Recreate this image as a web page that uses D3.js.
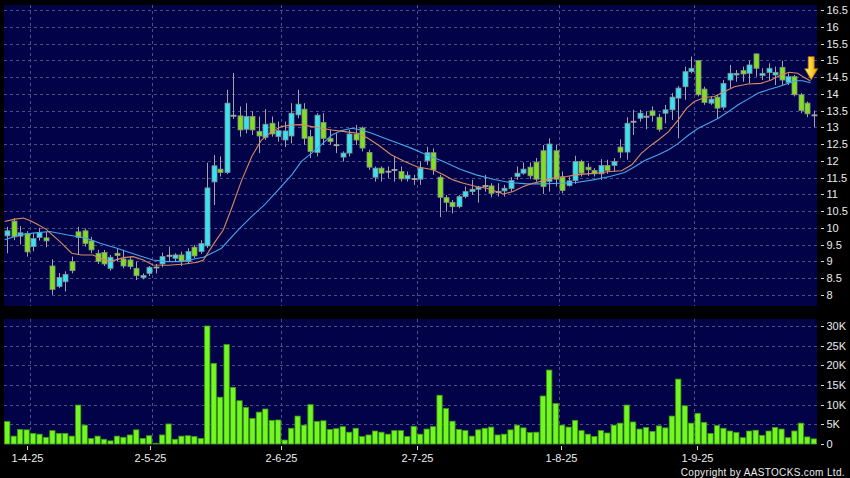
<!DOCTYPE html>
<html><head><meta charset="utf-8">
<script src="https://cdn.jsdelivr.net/npm/d3@7/dist/d3.min.js"></script>
<style>html,body{margin:0;padding:0;background:#000;}svg{display:block;}</style>
</head><body>
<svg id="c" width="850" height="478"></svg>
<script>
// ---- data ----
const opens  = [9.76,10.2,9.75,9.83,9.44,9.71,9.7,8.86,8.25,8.39,8.99,9.88,9.91,9.61,9.24,9.26,8.79,9.24,9.07,9.04,8.79,8.51,8.64,8.82,8.92,9.17,9.09,9.19,8.99,9.42,9.29,9.46,11.37,11.75,11.65,13.36,13.34,12.94,13.32,12.88,12.7,13.12,12.72,12.62,12.74,13.37,13.54,12.72,12.25,13.14,12.67,12.48,12.11,12.23,12.8,12.98,12.25,11.51,11.78,11.69,11.74,11.68,11.46,11.47,11.45,12.0,12.24,11.51,10.9,10.76,10.63,10.93,11.08,11.15,11.25,11.25,11.08,11.1,11.17,11.53,11.63,11.81,11.96,12.3,11.38,12.3,11.51,11.26,11.41,11.98,11.81,11.71,11.61,11.86,11.86,12.41,12.26,13.17,13.27,13.33,13.49,13.3,13.42,13.52,13.87,14.21,14.66,14.99,14.14,13.72,13.9,13.6,14.41,14.56,14.69,14.61,15.19,14.54,14.63,14.56,14.79,14.34,14.51,13.97,13.72,13.37];
const highs  = [10.03,10.28,10.05,9.9,9.85,10.0,9.88,9.06,8.65,8.7,9.14,10.03,9.98,9.73,9.34,9.34,9.19,9.39,9.34,9.14,8.99,8.64,8.86,8.92,9.26,9.44,9.24,9.29,9.39,9.49,9.63,11.94,12.17,12.13,14.12,14.62,13.62,13.72,13.48,13.32,13.54,13.32,13.17,13.17,13.72,14.12,13.72,12.92,13.42,13.42,12.92,12.82,12.28,12.92,13.07,13.02,12.33,11.83,11.83,11.83,12.13,11.83,11.68,11.58,11.98,12.42,12.37,11.58,10.98,10.83,10.98,11.23,11.43,11.25,11.58,11.33,11.33,11.28,11.51,11.83,11.95,11.95,12.08,12.47,12.67,12.47,11.68,11.53,12.15,12.03,11.93,11.78,12.05,12.03,12.08,12.64,13.3,13.52,13.52,13.47,13.62,13.4,13.67,14.02,14.23,14.81,15.11,15.01,14.21,13.92,13.97,14.41,14.86,14.71,14.81,14.99,15.2,14.76,14.91,14.81,14.99,14.61,14.56,14.02,13.77,13.5];
const lows   = [9.24,9.63,9.5,9.14,9.3,9.62,9.42,8.0,8.2,8.1,8.64,9.19,9.44,9.24,8.92,8.86,8.72,8.99,8.79,8.76,8.44,8.46,8.56,8.64,8.82,8.99,8.99,8.86,8.94,9.09,9.22,9.4,10.68,11.53,11.6,13.25,12.72,12.82,12.77,12.23,12.62,12.72,12.57,12.41,12.52,13.27,12.47,12.08,12.13,12.47,12.47,12.23,11.98,12.13,12.47,12.28,11.73,11.38,11.38,11.48,11.38,11.38,11.38,11.28,11.28,11.88,11.58,10.32,10.48,10.43,10.58,10.88,10.98,10.75,11.08,10.91,10.93,10.93,11.08,11.43,11.58,11.45,11.38,11.01,11.08,11.23,11.03,11.23,11.31,11.53,11.55,11.53,11.43,11.61,11.68,12.08,12.03,12.77,13.17,12.94,13.17,12.87,13.12,13.22,12.67,13.82,14.61,13.92,13.67,13.67,13.27,13.52,14.17,14.36,14.36,14.31,14.51,14.41,14.41,14.26,14.26,14.26,13.92,13.42,13.3,13.0];
const closes = [9.91,9.73,9.85,9.28,9.68,9.86,9.61,8.16,8.52,8.61,8.72,9.71,9.53,9.34,8.99,8.92,9.12,9.17,8.86,8.84,8.57,8.58,8.82,8.83,9.14,9.18,9.19,8.99,9.29,9.16,9.53,11.19,11.85,11.65,13.72,13.34,12.92,13.32,12.92,12.74,13.09,12.8,12.9,12.89,13.42,13.69,12.67,12.28,13.36,12.67,12.57,12.47,12.23,12.8,12.62,12.38,11.81,11.78,11.63,11.68,11.73,11.46,11.57,11.46,11.78,12.24,11.73,10.91,10.76,10.63,10.93,11.08,11.15,11.21,11.26,11.03,11.08,11.18,11.41,11.63,11.75,11.55,11.45,11.23,12.5,11.45,11.11,11.4,11.98,11.63,11.73,11.61,11.86,11.71,11.98,12.26,13.12,13.18,13.42,13.32,13.35,12.94,13.52,13.9,14.17,14.66,14.76,13.97,13.74,13.84,13.57,14.31,14.61,14.61,14.59,14.86,14.76,14.61,14.76,14.64,14.41,14.51,13.97,13.5,13.4,13.36];
const volumesK = [5.7,2.0,3.7,3.6,2.7,2.5,1.7,3.4,2.7,2.7,2.0,9.9,4.8,1.4,2.0,1.2,0.8,2.0,1.7,2.3,3.6,1.4,2.1,0.2,2.3,5.1,1.2,2.0,2.1,1.9,1.4,30.0,20.5,
  11.9,25.3,14.4,11.0,9.3,6.5,8.1,8.9,6.0,6.1,1.0,4.0,7.1,4.8,10.0,5.7,5.9,3.7,3.9,4.4,3.0,4.0,1.9,2.3,3.3,3.0,2.5,3.4,3.4,1.9,4.5,2.5,
  3.8,4.4,12.4,9.0,5.8,3.7,3.4,2.0,3.6,4.0,4.3,2.3,2.5,3.6,4.8,4.1,2.9,3.0,12.2,18.8,10.3,4.8,4.3,6.0,3.4,2.5,1.9,3.4,2.8,4.8,5.3,9.9,5.6,3.8,4.2,3.2,4.6,4.1,7.1,16.5,9.7,5.3,7.8,5.5,2.7,4.7,4.0,3.3,2.9,1.6,3.3,3.5,2.2,3.3,4.2,3.8,1.6,3.3,5.3,1.8,1.3];
// moving-average lines: [bar position, price]
const ma10Line = [[-0.4,10.19],[1,10.25],[2.5,10.29],[3.5,10.22],[4.5,10.12],[6,9.96],[8.2,9.58],[10,9.24],[11.5,9.19],[13.3,9.19],[14.4,9.09],[15.9,8.99],[18,9.11],[19.5,9.14],[21.1,9.04],[22.6,8.89],[25,8.88],[27.5,8.92],[29.5,8.97],[30.4,9.04],[31.4,9.34],[32.2,9.58],[33.5,9.94],[34.8,10.6],[36.3,11.4],[37.9,12.13],[39.4,12.62],[41,12.87],[42.5,13.02],[44,13.07],[45.6,13.08],[47.2,13.02],[48.7,12.97],[50.3,12.92],[52.3,12.87],[54.4,12.82],[55.9,12.67],[57.5,12.47],[59.5,12.18],[61.6,11.98],[63.5,11.82],[66,11.73],[67.6,11.58],[69.1,11.43],[70.7,11.33],[72.7,11.23],[74.3,11.18],[75.8,11.08],[76.9,11.01],[78.4,11.08],[80,11.23],[81.5,11.33],[83.6,11.43],[85.1,11.51],[86.7,11.53],[88.2,11.58],[89.8,11.61],[91.3,11.63],[93.4,11.68],[95.2,11.7],[96.8,11.88],[98.3,12.23],[99.9,12.48],[100.9,12.62],[102.5,12.87],[104,13.22],[105.3,13.57],[106.5,13.77],[108.1,13.89],[109.6,13.92],[111.2,14.07],[112.7,14.21],[114.8,14.29],[116.8,14.31],[118.4,14.41],[119.9,14.56],[121.2,14.64],[122.5,14.61],[123.5,14.49],[124.5,14.38]];
const ma20Line = [[-0.4,9.64],[2,9.79],[4,9.84],[6.6,9.89],[9.2,9.79],[12.3,9.69],[14.4,9.54],[17,9.39],[18.5,9.29],[20.6,9.16],[22.6,9.04],[24.7,8.99],[26.8,8.99],[28.8,9.06],[30.4,9.12],[32,9.27],[33.2,9.39],[35.8,9.94],[37.9,10.34],[39.9,10.69],[42,11.13],[44.1,11.58],[45.6,11.98],[47.2,12.23],[48.7,12.48],[50.3,12.77],[51.8,12.9],[53.4,12.97],[54.9,12.92],[56.5,12.82],[58.5,12.67],[60.6,12.52],[62.7,12.37],[64.5,12.22],[67.6,11.98],[70.2,11.75],[72.7,11.58],[75.3,11.45],[77.9,11.35],[80.5,11.31],[83.1,11.31],[85.6,11.33],[88.2,11.35],[90.8,11.43],[93.4,11.53],[95.7,11.65],[97.3,11.83],[98.8,12.01],[100.9,12.18],[102.5,12.33],[104,12.52],[105.6,12.77],[107.1,12.97],[108.7,13.12],[110.2,13.27],[111.8,13.47],[113.3,13.67],[114.8,13.84],[116.4,14.02],[117.9,14.12],[119.5,14.21],[121,14.31],[122.3,14.39],[123.3,14.39],[124.5,14.33]];
const priceTicks  = [16.5,16,15.5,15,14.5,14,13.5,13,12.5,12,11.5,11,10.5,10,9.5,9,8.5,8];
const volumeTicks = [30,25,20,15,10,5,0];
const volumeTickLabels = ["30K","25K","20K","15K","10K","5K","0"];
const dateLabels = ["1-4-25","2-5-25","2-6-25","2-7-25","1-8-25","1-9-25"];
const dateBars   = [4,23,43,64,86,107];
const arrowAt = {bar:124.6, price:14.42};
const copyright = "Copyright by AASTOCKS.com Ltd.";

// ---- drawing ----
const svg = d3.select("#c");
const W = 850, H = 478;
const L = 4, R = 817;
const main = {top:5, bottom:306};
const vol  = {top:319, bottom:445};
const N = closes.length;
const x = d3.scaleLinear().domain([-0.5, N-0.5]).range([L, R]);
const xLab = d3.scaleLinear().domain([0, N]).range([0.66, 821]);
const y = d3.scaleLinear().domain([8, 16.5]).range([294.8, 10]);
const yv = d3.scaleLinear().domain([0, 30]).range([444, 326]);
const font = "'Liberation Sans', Arial, sans-serif";
const gridCol = "#4e4e84";
const bg = "#020249";

svg.append("rect").attr("width", W).attr("height", H).attr("fill", "#000");
svg.append("rect").attr("x", L).attr("y", main.top).attr("width", R-L).attr("height", main.bottom-main.top).attr("fill", bg);
svg.append("rect").attr("x", L).attr("y", vol.top).attr("width", R-L).attr("height", vol.bottom-vol.top).attr("fill", bg);

const grid = svg.append("g").attr("stroke", gridCol).attr("stroke-width", 1).attr("stroke-dasharray", "3,3").attr("fill", "none");
priceTicks.forEach(p => grid.append("line").attr("x1", L).attr("x2", R)
  .attr("y1", Math.round(y(p))+0.5).attr("y2", Math.round(y(p))+0.5));
volumeTicks.filter(v => v > 0).forEach(v => grid.append("line").attr("x1", L).attr("x2", R)
  .attr("y1", Math.round(yv(v))+0.5).attr("y2", Math.round(yv(v))+0.5));
dateBars.forEach(b => {
  const gx = Math.round(x(b-0.5))+0.5;
  grid.append("line").attr("x1", gx).attr("x2", gx).attr("y1", main.top).attr("y2", main.bottom);
  grid.append("line").attr("x1", gx).attr("x2", gx).attr("y1", vol.top).attr("y2", vol.bottom);
});

// candles
const cg = svg.append("g");
const bw = 5;
for (let i = 0; i < N; i++) {
  const cx = Math.round(x(i)) + 0.5;
  const o = opens[i], c = closes[i];
  cg.append("line").attr("x1", cx).attr("x2", cx).attr("y1", y(highs[i])).attr("y2", y(lows[i]))
    .attr("stroke", "#a4a4a4").attr("stroke-width", 1);
  const doji = Math.abs(c - o) < 0.03;
  const top = y(Math.max(o, c)), bot = y(Math.min(o, c));
  const fill = doji ? "#a8a8a8" : (c > o ? "#36e3f2" : "#7ee01e");
  cg.append("rect").attr("x", cx - bw/2).attr("y", top).attr("width", bw).attr("height", Math.max(1, bot - top))
    .attr("fill", fill).attr("stroke", doji ? "#a8a8a8" : "#8c8c8c").attr("stroke-width", 0.8);
}

// moving averages
const line = d3.line().x(d => x(d[0])).y(d => y(d[1])).curve(d3.curveLinear);
svg.append("path").attr("d", line(ma20Line)).attr("fill", "none").attr("stroke", "#46a6ea").attr("stroke-width", 1.1);
svg.append("path").attr("d", line(ma10Line)).attr("fill", "none").attr("stroke", "#d98a62").attr("stroke-width", 1.1);

// volume
const vg = svg.append("g");
for (let i = 0; i < N; i++) {
  const vx = x(i - 0.5) + 0.6;
  const vw = x(i + 0.5) - x(i - 0.5) - 1.2;
  vg.append("rect").attr("x", vx).attr("y", yv(volumesK[i])).attr("width", vw)
    .attr("height", Math.max(0.5, yv(0) - yv(volumesK[i])))
    .attr("fill", "#72f820").attr("stroke", "#3f9a14").attr("stroke-width", 0.8);
}

// arrow
const defs = svg.append("defs");
const gr = defs.append("linearGradient").attr("id", "ag").attr("x1", "0").attr("x2", "1").attr("y1", "0").attr("y2", "0");
gr.append("stop").attr("offset", "0").attr("stop-color", "#fff0a0");
gr.append("stop").attr("offset", "0.5").attr("stop-color", "#ffd030");
gr.append("stop").attr("offset", "1").attr("stop-color", "#e89a00");
const ax = x(arrowAt.bar), ay = y(arrowAt.price);
svg.append("path")
  .attr("d", `M${ax-3},${ay-23} L${ax+3},${ay-23} L${ax+3},${ay-11} L${ax+6.5},${ay-11} L${ax},${ay} L${ax-6.5},${ay-11} L${ax-3},${ay-11} Z`)
  .attr("fill", "url(#ag)").attr("stroke", "#b87400").attr("stroke-width", 0.8);

// right axes
const ax1 = svg.append("g").attr("font-family", font).attr("font-size", 11).attr("fill", "#ececec");
priceTicks.forEach(p => {
  const yy = Math.round(y(p)) + 0.5;
  ax1.append("line").attr("x1", 821).attr("x2", 824).attr("y1", yy).attr("y2", yy).attr("stroke", "#d8d8d8");
  ax1.append("text").attr("x", 826.5).attr("y", yy).attr("dy", "0.36em").text(String(p));
});
volumeTicks.forEach((v, k) => {
  const yy = Math.round(yv(v)) + 0.5;
  ax1.append("line").attr("x1", 821).attr("x2", 824).attr("y1", yy).attr("y2", yy).attr("stroke", "#d8d8d8");
  ax1.append("text").attr("x", 826.5).attr("y", yy).attr("dy", "0.36em").text(volumeTickLabels[k]);
});

// date axis
dateBars.forEach((b, k) => {
  const tx = Math.round(xLab(b)) + 0.5;
  ax1.append("line").attr("x1", tx).attr("x2", tx).attr("y1", 446).attr("y2", 450).attr("stroke", "#d8d8d8");
  ax1.append("text").attr("x", tx).attr("y", 461.5).attr("text-anchor", "middle").text(dateLabels[k]);
});

svg.append("text").attr("x", 845).attr("y", 476).attr("text-anchor", "end")
  .attr("font-family", font).attr("font-size", 10).attr("letter-spacing", "0.35px")
  .attr("fill", "#ececec").text(copyright);
</script>
</body></html>
